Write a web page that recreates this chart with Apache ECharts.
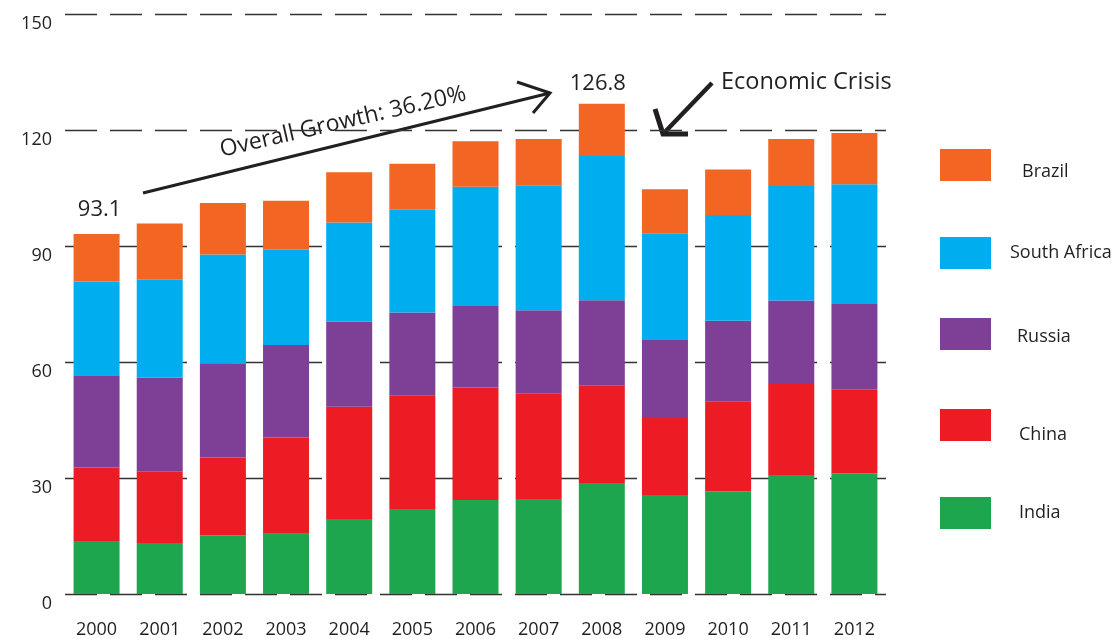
<!DOCTYPE html>
<html>
<head>
<meta charset="utf-8">
<script src="https://cdn.jsdelivr.net/npm/echarts@6/dist/echarts.min.js"></script>
<style>
html,body{margin:0;padding:0;background:#fff;}
#chart{width:1117px;height:639px;}
</style>
</head>
<body>
<div id="chart"></div>
<script>
const years = ['2000','2001','2002','2003','2004','2005','2006','2007','2008','2009','2010','2011','2012'];
const india = [13.7,13.2,15.1,15.6,19.4,22.0,24.3,24.6,28.7,25.6,26.5,30.8,31.2];
const china = [19.0,18.4,20.2,24.9,29.0,29.4,29.1,27.2,25.3,19.9,23.2,23.5,21.6];
const russia = [23.9,24.3,24.4,23.9,22.1,21.4,21.1,21.6,22.0,20.4,21.0,21.6,22.2];
const southAfrica = [24.2,25.4,28.1,24.6,25.6,26.7,30.8,32.3,37.3,27.4,27.3,29.6,31.0];
const brazil = [12.3,14.5,13.3,12.7,13.0,11.8,11.8,12.0,13.5,11.4,11.8,12.2,13.2];
const yTicks = [0,30,60,90,120,150];
const annotations = { growth: 'Overall Growth: 36.20%', crisis: 'Economic Crisis' };

const FONT = 'Open Sans';
const TXT = '#231F20';
const colors = { India:'#1DA64E', China:'#ED1C24', Russia:'#7E3F97', 'South Africa':'#00AEEF', Brazil:'#F26522' };

const totals = years.map((_, i) => india[i] + china[i] + russia[i] + southAfrica[i] + brazil[i]);

function barSeries(name, values) {
  return {
    name: name, type: 'bar', stack: 'total', barWidth: 46,
    itemStyle: { color: colors[name] },
    data: values.slice()
  };
}

const brazilSeries = barSeries('Brazil', brazil);
brazilSeries.data = brazil.map((v, i) => {
  if (i === 0) return { value: v, label: { show: true, position: 'top', distance: 13, offset: [3, 0], formatter: () => totals[i].toFixed(1), fontSize: 22, color: TXT, fontFamily: FONT } };
  if (i === 8) return { value: v, label: { show: true, position: 'top', distance: 9, offset: [-4, 0], formatter: () => totals[i].toFixed(1), fontSize: 22, color: TXT, fontFamily: FONT } };
  return v;
});

function legendFor(name, top, padLeft, padTop) {
  return {
    data: [name], left: 940, top: top, padding: 0, orient: 'vertical',
    itemWidth: 51, itemHeight: 32, icon: 'rect', selectedMode: false,
    formatter: '{t|{name}}',
    textStyle: {
      fontSize: 18, color: TXT, fontFamily: FONT,
      rich: { t: { fontSize: 18, color: TXT, fontFamily: FONT, padding: [padTop, 0, 0, padLeft] } }
    }
  };
}

const chart = echarts.init(document.getElementById('chart'));
chart.setOption({
  animation: false,
  textStyle: { fontFamily: FONT },
  grid: { left: 65, right: 231, top: 14, bottom: 45, containLabel: false },
  legend: [
    legendFor('Brazil', 149, 26, 14),
    legendFor('South Africa', 237, 14, 0),
    legendFor('Russia', 318, 21, 6),
    legendFor('China', 409, 23, 20),
    legendFor('India', 497, 23, 0)
  ],
  xAxis: {
    type: 'category', data: years,
    axisLine: { show: false }, axisTick: { show: false },
    axisLabel: { fontSize: 18, color: TXT, margin: 27, fontFamily: FONT }
  },
  yAxis: {
    type: 'value', min: yTicks[0], max: yTicks[yTicks.length - 1], interval: 30,
    axisLine: { show: false }, axisTick: { show: false },
    axisLabel: { fontSize: 18, color: TXT, margin: 13, verticalAlign: 'top', padding: [1, 0, 0, 0], fontFamily: FONT },
    splitLine: { show: true, lineStyle: { color: '#333', width: 1.3, type: [32, 13] } }
  },
  series: [
    barSeries('India', india),
    barSeries('China', china),
    barSeries('Russia', russia),
    barSeries('South Africa', southAfrica),
    brazilSeries
  ],
  graphic: [
    { type: 'polyline', shape: { points: [[143, 193], [550, 93]] }, style: { stroke: TXT, lineWidth: 3, fill: null } },
    { type: 'polyline', shape: { points: [[517, 82], [550, 93], [533, 113]] }, style: { stroke: TXT, lineWidth: 3, fill: null } },
    { type: 'text', x: 343, y: 122, rotation: 13 * Math.PI / 180,
      style: { text: annotations.growth, fontSize: 23, fill: TXT, fontFamily: FONT, align: 'center', verticalAlign: 'middle' } },
    { type: 'polyline', shape: { points: [[712, 83], [663, 134]] }, style: { stroke: TXT, lineWidth: 4.5, fill: null } },
    { type: 'polyline', shape: { points: [[655, 109], [663, 134], [688, 134]] }, style: { stroke: TXT, lineWidth: 5, fill: null, lineJoin: 'miter' } },
    { type: 'text', x: 721, y: 82,
      style: { text: annotations.crisis, fontSize: 23.5, fill: TXT, fontFamily: FONT, align: 'left', verticalAlign: 'middle' } }
  ]
});
</script>
</body>
</html>
